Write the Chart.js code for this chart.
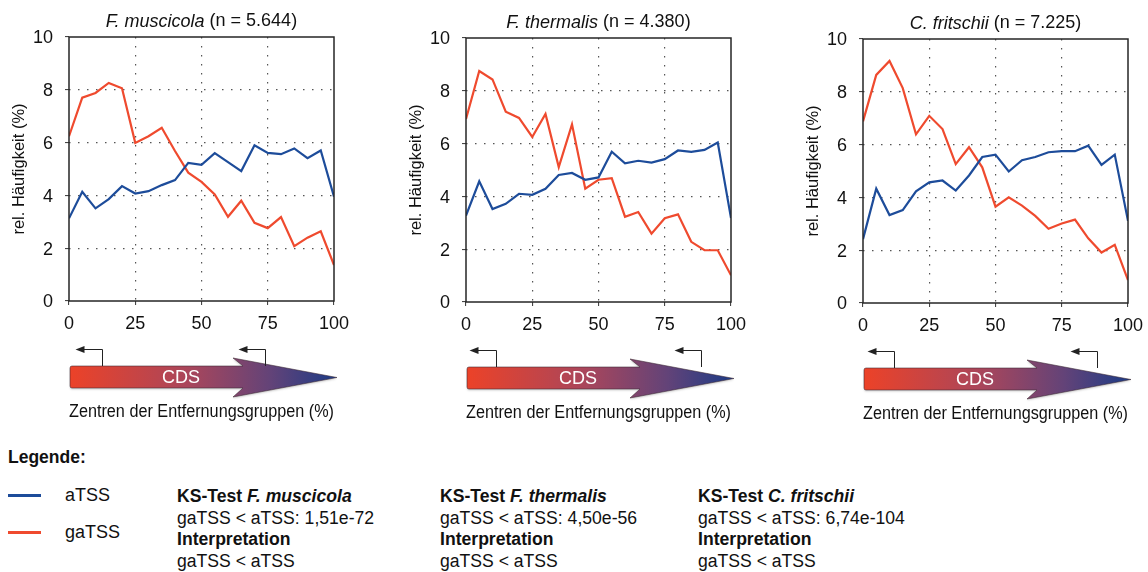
<!DOCTYPE html>
<html lang="de">
<head>
<meta charset="utf-8">
<title>TSS-Verteilung</title>
<script src="https://cdn.jsdelivr.net/npm/chart.js@4.4.1/dist/chart.umd.min.js"></script>
<style>
  body { margin: 0; width: 1148px; height: 572px; overflow: hidden; background: #fff;
         position: relative; font-family: "Liberation Sans", Arial, sans-serif; color: #111; }
  .panel { position: absolute; top: 0; width: 354px; height: 430px; }
  .lg-title { position: absolute; left: 8px; top: 446px; font-size: 17.5px; font-weight: bold; line-height: 22px; }
  .swatch { position: absolute; left: 8px; width: 33px; height: 3px; }
  .key { position: absolute; left: 65px; font-size: 18px; line-height: 20px; }
  .ks { position: absolute; top: 486px; font-size: 17.6px; line-height: 21.7px; white-space: nowrap; }
  .ks b { font-weight: bold; }
</style>
</head>
<body>
<canvas id="c0" class="panel" width="354" height="430" style="left:0px;top:0px"></canvas>
<canvas id="c1" class="panel" width="354" height="430" style="left:397px;top:1px"></canvas>
<canvas id="c2" class="panel" width="354" height="430" style="left:794px;top:2px"></canvas>

<div class="lg-title">Legende:</div>
<div id="keys"></div>
<div id="kstests"></div>

<script>
// bin centres (% of distance groups)
var binCenters = [0, 5, 10, 15, 20, 25, 30, 35, 40, 45, 50, 55, 60, 65, 70, 75, 80, 85, 90, 95, 100];

// species and sample sizes
var speciesNames = ["F. muscicola", "F. thermalis", "C. fritschii"];
var sampleSizes = ["5.644", "4.380", "7.225"];

// relative frequency (%) per bin, aTSS
var aTSSMuscicola = [3.13, 4.14, 3.51, 3.86, 4.35, 4.07, 4.16, 4.39, 4.58, 5.23, 5.16, 5.60, 5.26, 4.92, 5.90, 5.61, 5.56, 5.78, 5.41, 5.70, 3.95];
var aTSSThermalis = [3.27, 4.57, 3.52, 3.72, 4.10, 4.06, 4.29, 4.81, 4.89, 4.63, 4.72, 5.69, 5.25, 5.35, 5.28, 5.41, 5.74, 5.69, 5.76, 6.04, 3.18];
var aTSSFritschii = [2.42, 4.33, 3.33, 3.52, 4.23, 4.57, 4.64, 4.26, 4.83, 5.53, 5.62, 4.98, 5.41, 5.53, 5.71, 5.75, 5.75, 5.96, 5.23, 5.62, 3.11];

// relative frequency (%) per bin, gaTSS
var gaTSSMuscicola = [6.24, 7.70, 7.88, 8.26, 8.06, 5.99, 6.24, 6.56, 5.68, 4.86, 4.51, 4.04, 3.19, 3.80, 2.96, 2.76, 3.18, 2.08, 2.40, 2.64, 1.36];
var gaTSSThermalis = [6.93, 8.75, 8.43, 7.21, 6.97, 6.25, 7.12, 5.11, 6.73, 4.29, 4.63, 4.69, 3.23, 3.41, 2.59, 3.17, 3.32, 2.28, 1.96, 1.96, 1.01];
var gaTSSFritschii = [6.88, 8.64, 9.17, 8.14, 6.39, 7.09, 6.59, 5.26, 5.90, 5.14, 3.65, 4.00, 3.69, 3.30, 2.81, 3.01, 3.16, 2.45, 1.91, 2.20, 0.87];

// axis ticks
var xTicks = [0, 25, 50, 75, 100];
var yTicks = [0, 2, 4, 6, 8, 10];

// KS test results
var ksPValues = ["1,51e-72", "4,50e-56", "6,74e-104"];
var ksInterpretation = ["gaTSS < aTSS", "gaTSS < aTSS", "gaTSS < aTSS"];

var aTSSSeries = [aTSSMuscicola, aTSSThermalis, aTSSFritschii];
var gaTSSSeries = [gaTSSMuscicola, gaTSSThermalis, gaTSSFritschii];

var blue = "#1d4c9a";
var red = "#ef4a2e";
var fontFamily = "'Liberation Sans', Arial, sans-serif";

// x positions (axis units) of the two little TSS arrows above the CDS arrow
var tssMarkerPos = [[12.5, 74], [11.5, 88.7], [11.7, 88.3]];

Chart.defaults.font.family = fontFamily;
Chart.defaults.font.size = 18;
Chart.defaults.color = "#111";

function toPoints(values) {
  return values.map(function (v, i) { return { x: binCenters[i], y: v }; });
}

// frame, title and CDS arrow drawn around the plot area
var panelDecor = {
  id: "panelDecor",
  afterDraw: function (chart, args, opts) {
    var ctx = chart.ctx;
    var a = chart.chartArea;
    var xs = chart.scales.x;
    ctx.save();

    // box round the plot
    ctx.strokeStyle = "#262626";
    ctx.lineWidth = 1.5;
    ctx.strokeRect(a.left, a.top, a.right - a.left, a.bottom - a.top);

    // title: italic species name + plain sample size
    var italicPart = opts.species;
    var plainPart = " (n = " + opts.n + ")";
    ctx.fillStyle = "#111";
    ctx.textBaseline = "middle";
    ctx.font = "italic 18px " + fontFamily;
    var w1 = ctx.measureText(italicPart).width;
    ctx.font = "18px " + fontFamily;
    var w2 = ctx.measureText(plainPart).width;
    var tx = (a.left + a.right) / 2 - (w1 + w2) / 2;
    var ty = a.top - 15.5;
    ctx.textAlign = "left";
    ctx.font = "italic 18px " + fontFamily;
    ctx.fillText(italicPart, tx, ty);
    ctx.font = "18px " + fontFamily;
    ctx.fillText(plainPart, tx + w1, ty);

    // CDS arrow
    var b = a.bottom;
    var bodyLeft = a.left + 1, bodyTop = b + 65, bodyBot = b + 87;
    var headTop = b + 57, headBot = b + 96, tipX = a.right + 3, tipY = b + 76.5;
    var backX = a.right - 101, notchX = a.right - 91;
    var grad = ctx.createLinearGradient(bodyLeft, 0, tipX, 0);
    grad.addColorStop(0, "#ec4228");
    grad.addColorStop(0.45, "#a8465c");
    grad.addColorStop(0.75, "#634378");
    grad.addColorStop(1, "#1c3b86");
    ctx.beginPath();
    ctx.moveTo(bodyLeft + 2, bodyTop);
    ctx.lineTo(notchX, bodyTop);
    ctx.lineTo(backX, headTop);
    ctx.lineTo(tipX, tipY);
    ctx.lineTo(backX, headBot);
    ctx.lineTo(notchX, bodyBot);
    ctx.lineTo(bodyLeft + 2, bodyBot);
    ctx.quadraticCurveTo(bodyLeft, bodyBot, bodyLeft, bodyBot - 2);
    ctx.lineTo(bodyLeft, bodyTop + 2);
    ctx.quadraticCurveTo(bodyLeft, bodyTop, bodyLeft + 2, bodyTop);
    ctx.closePath();
    ctx.shadowColor = "rgba(0,0,0,0.18)";
    ctx.shadowOffsetY = 1.5;
    ctx.shadowBlur = 2;
    ctx.fillStyle = grad;
    ctx.fill();
    ctx.shadowColor = "transparent";
    ctx.strokeStyle = "rgba(60,40,50,0.7)";
    ctx.lineWidth = 0.8;
    ctx.stroke();

    ctx.fillStyle = "#fff";
    ctx.textAlign = "center";
    ctx.font = "18px " + fontFamily;
    ctx.fillText("CDS", a.left + 112, b + 77);

    // TSS markers: bent arrows pointing upstream
    ctx.strokeStyle = "#222";
    ctx.fillStyle = "#222";
    ctx.lineWidth = 1;
    opts.markers.forEach(function (pos) {
      var mx = Math.round(xs.getPixelForValue(pos)) + 0.5;
      var my = b + 48.5;
      ctx.beginPath();
      ctx.moveTo(mx, bodyTop);
      ctx.lineTo(mx, my);
      ctx.lineTo(mx - 19, my);
      ctx.stroke();
      ctx.beginPath();
      ctx.moveTo(mx - 27, my);
      ctx.lineTo(mx - 18, my - 3.5);
      ctx.lineTo(mx - 18, my + 3.5);
      ctx.closePath();
      ctx.fill();
    });
    ctx.restore();
  }
};

function edgeAware(max) {
  return function (c) {
    var v = c.tick && c.tick.value;
    return (v === 0 || v === max) ? "rgba(0,0,0,0)" : "#555";
  };
}

for (var i = 0; i < 3; i++) {
  new Chart(document.getElementById("c" + i).getContext("2d"), {
    type: "line",
    data: {
      datasets: [
        {
          label: "aTSS",
          data: toPoints(aTSSSeries[i]),
          borderColor: blue,
          borderWidth: 2.2,
          pointRadius: 0,
          tension: 0
        },
        {
          label: "gaTSS",
          data: toPoints(gaTSSSeries[i]),
          borderColor: red,
          borderWidth: 2.2,
          pointRadius: 0,
          tension: 0
        }
      ]
    },
    plugins: [panelDecor],
    options: {
      responsive: false,
      animation: false,
      layout: { padding: { top: 37, right: 20, left: 0, bottom: 0 } },
      plugins: {
        legend: { display: false },
        tooltip: { enabled: false },
        panelDecor: { species: speciesNames[i], n: sampleSizes[i], markers: tssMarkerPos[i] }
      },
      scales: {
        x: {
          type: "linear",
          min: 0,
          max: 100,
          // fixed height, and keep the "100" label from shrinking the plot
          afterFit: function (s) { s.height = 129; s.paddingLeft = 0; s.paddingRight = 0; },
          afterBuildTicks: function (s) { s.ticks = xTicks.map(function (v) { return { value: v }; }); },
          ticks: { padding: 8, font: { size: 18 }, color: "#111", maxRotation: 0 },
          grid: { color: edgeAware(100), lineWidth: 1.2, tickColor: "#333", tickLength: 4, tickBorderDash: [], tickWidth: 1 },
          border: { display: false, dash: [1.5, 7.5] },
          title: { display: true, text: "Zentren der Entfernungsgruppen (%)", font: { size: 18 }, color: "#111", padding: { top: 0, bottom: 7.5 } }
        },
        y: {
          min: 0,
          max: 10,
          afterFit: function (s) { s.width = 69; s.paddingTop = 0; s.paddingBottom = 0; },
          afterBuildTicks: function (s) { s.ticks = yTicks.map(function (v) { return { value: v }; }); },
          ticks: { padding: 12, font: { size: 18 }, color: "#111", labelOffset: 1.5 },
          grid: { color: edgeAware(10), lineWidth: 1.2, tickColor: "#333", tickLength: 4, tickBorderDash: [], tickWidth: 1 },
          border: { display: false, dash: [1.5, 7.5] },
          title: { display: true, text: "rel. Häufigkeit (%)", font: { size: 16.5 }, color: "#111", padding: { top: 10, bottom: 0 } }
        }
      }
    }
  });
}

// legend keys
var keys = document.getElementById("keys");
[["aTSS", blue, 495], ["gaTSS", red, 532]].forEach(function (k) {
  var sw = document.createElement("div");
  sw.className = "swatch";
  sw.style.background = k[1];
  sw.style.top = (k[2] - 1.5) + "px";
  keys.appendChild(sw);
  var lb = document.createElement("div");
  lb.className = "key";
  lb.style.top = (k[2] - 10) + "px";
  lb.textContent = k[0];
  keys.appendChild(lb);
});

// KS test columns
var ksLeft = [177, 440, 698];
var ks = document.getElementById("kstests");
speciesNames.forEach(function (name, j) {
  var d = document.createElement("div");
  d.className = "ks";
  d.style.left = ksLeft[j] + "px";
  d.innerHTML = "<b>KS-Test <i>" + name + "</i></b><br>gaTSS &lt; aTSS: " + ksPValues[j] +
    "<br><b>Interpretation</b><br>" + ksInterpretation[j].replace("<", "&lt;");
  ks.appendChild(d);
});
</script>
</body>
</html>
